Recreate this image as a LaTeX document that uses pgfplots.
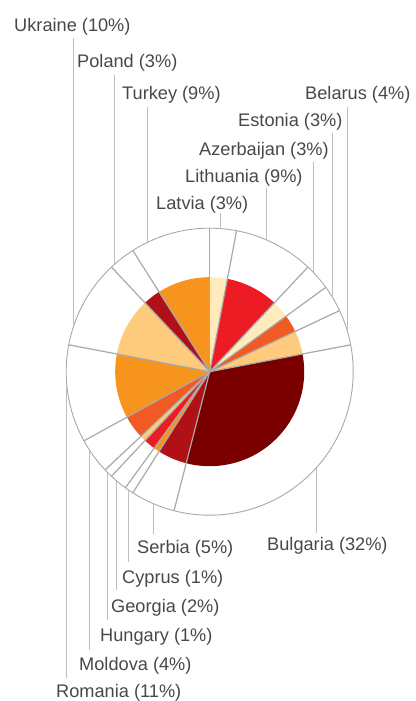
\documentclass[border=0pt]{standalone}
\usepackage{pgfplots}
\pgfplotsset{compat=1.18}
\usepackage{pgfplotstable}
\usepackage{fontspec}
\setmainfont{Liberation Sans}

\definecolor{cream}{HTML}{FFEBBB}
\definecolor{red}{HTML}{ED1C24}
\definecolor{orred}{HTML}{F15A22}
\definecolor{lorange}{HTML}{FDCB7B}
\definecolor{maroon}{HTML}{7A0000}
\definecolor{dred}{HTML}{B01116}
\definecolor{orange}{HTML}{F7941D}
\definecolor{gridgray}{HTML}{A7A9AC}
\definecolor{leadgray}{HTML}{BCBEC0}
\definecolor{txtgray}{HTML}{48484A}

% slices clockwise from 12 o'clock; tx,ty = label left/middle, lx = leader x,
% ly = leader end next to the label, s = 1 label above / -1 label below (pixels, y down)
\pgfplotstableread{
name       pct col     tx   ty    lx     ly    s
Latvia     3   cream   157  203   220.7  213   1
Lithuania  9   red     186  176   266.7  188   1
Azerbaijan 3   cream   200  149   313.3  162   1
Estonia    3   orred   239  120   332.3  133   1
Belarus    4   lorange 306  93    347.3  107   1
Bulgaria   32  maroon  268  544   316    533  -1
Serbia     5   dred    138  546.7 153.3  534  -1
Cyprus     1   orange  123  576.7 128.3  561.7 -1
Georgia    2   red     112  606   116.7  590  -1
Hungary    1   lorange 101  635   107.7  620  -1
Moldova    4   orred   80   664   89     650  -1
Romania    11  orange  57   691   66.7   678  -1
Ukraine    10  lorange 15   25    73.3   38    1
Poland     3   dred    78   61    114.3  75    1
Turkey     9   orange  123  92.7  147.7  107   1
}\data

\def\cxp{209.7}
\def\cyp{371.7}
\def\Rout{143.5}
\def\Rin{94.5}

\begin{document}
\begin{tikzpicture}
\begin{axis}[
    at={(0,0)}, anchor=south west,
    width=416bp, height=701bp, scale only axis,
    xmin=0, xmax=416, ymin=0, ymax=701,
    hide axis, clip=false,
]
\pgfmathsetmacro{\cy}{701-\cyp}
\pgfplotstablegetrowsof{\data}
\pgfmathtruncatemacro{\N}{\pgfplotsretval-1}

% outer ring
\edef\tmp{\noexpand\draw[gridgray, line width=0.9bp, fill=white]
    (axis cs:\cxp,\cy) circle[radius=\Rout bp];}
\tmp

% inner coloured pie
\xdef\acc{90}
\pgfplotsforeachungrouped \i in {0,...,\N}{
  \pgfplotstablegetelem{\i}{pct}\of{\data}\let\pp\pgfplotsretval
  \pgfplotstablegetelem{\i}{col}\of{\data}\let\slicecol\pgfplotsretval
  \pgfmathsetmacro{\aend}{\acc-3.6*\pp}
  \edef\tmp{\noexpand\fill[\slicecol] (axis cs:\cxp,\cy) -- ++(\acc:\Rin bp)
      arc[start angle=\acc, end angle=\aend, radius=\Rin bp] -- cycle;}
  \tmp
  \xdef\acc{\aend}
}

% radial separators
\xdef\acc{90}
\pgfplotsforeachungrouped \i in {0,...,\N}{
  \pgfplotstablegetelem{\i}{pct}\of{\data}\let\pp\pgfplotsretval
  \edef\tmp{\noexpand\draw[gridgray, line width=1.2bp]
      (axis cs:\cxp,\cy) -- ++(\acc:\Rout bp);}
  \tmp
  \pgfmathsetmacro{\aend}{\acc-3.6*\pp}
  \xdef\acc{\aend}
}

% leaders and labels
\pgfplotsforeachungrouped \i in {0,...,\N}{
  \pgfplotstablegetelem{\i}{name}\of{\data}\let\nm\pgfplotsretval
  \pgfplotstablegetelem{\i}{pct}\of{\data}\let\pp\pgfplotsretval
  \pgfplotstablegetelem{\i}{tx}\of{\data}\let\tx\pgfplotsretval
  \pgfplotstablegetelem{\i}{ty}\of{\data}\let\ty\pgfplotsretval
  \pgfplotstablegetelem{\i}{lx}\of{\data}\let\lx\pgfplotsretval
  \pgfplotstablegetelem{\i}{ly}\of{\data}\let\ly\pgfplotsretval
  \pgfplotstablegetelem{\i}{s}\of{\data}\let\sd\pgfplotsretval
  \pgfmathsetmacro{\dx}{abs(\lx-\cxp)}
  \pgfmathsetmacro{\yc}{701-(\cyp-\sd*10*sqrt(((\Rout-\dx)/10)*((\Rout+\dx)/10)))}
  \pgfmathsetmacro{\ye}{701-\ly}
  \pgfmathsetmacro{\nx}{\tx-1}
  \pgfmathsetmacro{\ny}{701-\ty-6.5}
  \edef\tmp{\noexpand\draw[leadgray, line width=0.9bp]
      (axis cs:\lx,\yc) -- (axis cs:\lx,\ye);
    \noexpand\node[anchor=base west, inner sep=0pt, text=txtgray,
      font=\noexpand\fontsize{18.2bp}{20bp}\noexpand\selectfont]
      at (axis cs:\nx,\ny) {\nm\space(\pp\noexpand\%)};}
  \tmp
}
\end{axis}
\pgfresetboundingbox
\useasboundingbox (0,0) rectangle (416bp,701bp);
\end{tikzpicture}
\end{document}
